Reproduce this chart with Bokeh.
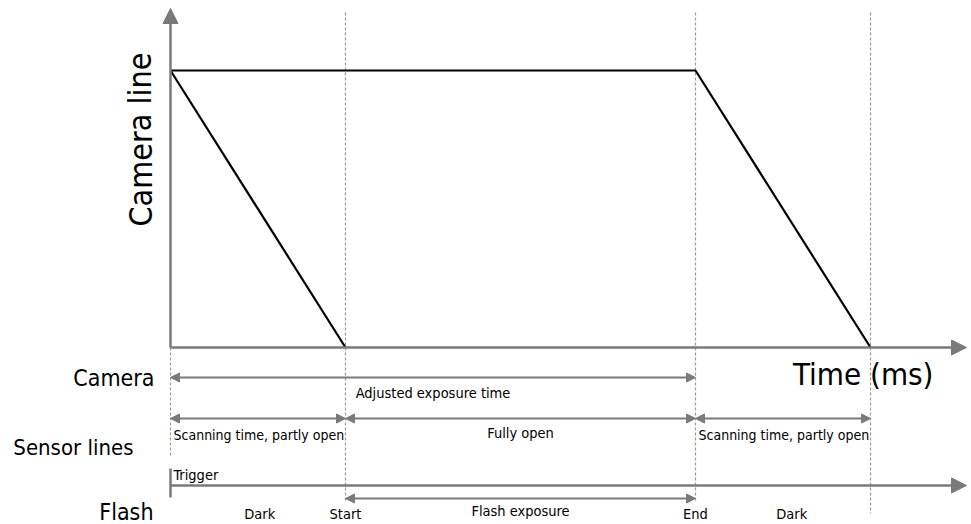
from bokeh.plotting import figure
from bokeh.models import Arrow, NormalHead, Range1d, Label
from bokeh.embed import file_html
from bokeh.resources import INLINE

# ---- data (time in arbitrary ms units, camera line as fraction) ----
event_times = [0, 1, 3, 4]          # trigger / flash start / flash end / scan end
cam_top_x = [0, 3, 4]
cam_top_y = [1, 1, 0]
cam_scan_x = [0, 1]
cam_scan_y = [1, 0]
camera_spans = [(0, 3, "Adjusted exposure time")]
sensor_spans = [(0, 1, "Scanning time, partly open"),
                (1, 3, "Fully open"),
                (3, 4, "Scanning time, partly open")]
flash_span = (1, 3, "Flash exposure")
flash_marks = [(0.51, "Dark"), (1, "Start"), (3, "End"), (3.55, "Dark")]
row_labels = ["Camera", "Sensor lines", "Flash"]

# ---- layout helpers (reference pixel -> data) ----
PX, PY, X0, Y0 = 175.0, 277.0, 170.0, 347.0
def tx(px): return (px - X0) / PX
def vy(py): return (Y0 - py) / PY

FONT = "DejaVu Sans Condensed"
G = "#7a7a7a"
DG = "#9a9a9a"

W, H = 971, 524
p = figure(width=W, height=H, output_backend="svg", toolbar_location=None,
           x_range=Range1d(tx(0), tx(W)), y_range=Range1d(vy(H), vy(0)),
           min_border=0, outline_line_color=None)
p.axis.visible = False
p.grid.visible = False
p.background_fill_color = "white"

# dashed event lines
dash_top = [None, vy(12), vy(12), vy(12)]
dash_bot = [vy(457), vy(500), vy(500), vy(513)]
for t, top, bot in zip(event_times, dash_top, dash_bot):
    y_top = 0 if top is None else top
    p.segment(x0=[t], y0=[y_top], x1=[t], y1=[bot], line_color=DG,
              line_width=1.2, line_dash="3 2")

def head(size):
    return NormalHead(size=size, fill_color=G, line_color=G, line_width=1)

# axes with arrows
p.add_layout(Arrow(end=head(15), x_start=0, y_start=0, x_end=0, y_end=vy(8),
                   line_color=G, line_width=2.5))
p.add_layout(Arrow(end=head(15), x_start=0, y_start=0, x_end=tx(966), y_end=0,
                   line_color=G, line_width=2.5))
# flash line
p.add_layout(Arrow(end=head(15), x_start=0, y_start=vy(485), x_end=tx(966), y_end=vy(485),
                   line_color=G, line_width=2.5))
# trigger tick
p.segment(x0=[event_times[0]], y0=[vy(468)], x1=[event_times[0]], y1=[vy(497)],
          line_color=G, line_width=2.5)

# camera line
p.line(cam_top_x, cam_top_y, line_color="black", line_width=2.2)
p.line(cam_scan_x, cam_scan_y, line_color="black", line_width=2.2)

def span_arrow(a, b, py):
    p.add_layout(Arrow(start=head(9), end=head(9), x_start=a, y_start=vy(py),
                       x_end=b, y_end=vy(py), line_color=G, line_width=2))

SMALL = "14.5px"
def txt(x, y, s, size=SMALL, align="left", angle=0.0):
    p.add_layout(Label(x=x, y=y, text=s, text_font=FONT, text_font_size=size,
                       text_align=align, text_baseline="middle", angle=angle,
                       text_color="black"))

# camera row
for a, b, s in camera_spans:
    span_arrow(a, b, 377)
    txt((a + b) / 2, vy(392), s, align="center")
# sensor row
for a, b, s in sensor_spans:
    span_arrow(a, b, 418)
    if s == "Fully open":
        txt((a + b) / 2, vy(432), s, align="center")
    else:
        txt(a + tx(173), vy(434), s, size="14px")
# flash row
span_arrow(flash_span[0], flash_span[1], 498)
txt((flash_span[0] + flash_span[1]) / 2, vy(510), flash_span[2], align="center")
for t, s in flash_marks:
    txt(t, vy(513), s, align="center")
txt(event_times[0] + tx(173), vy(474), "Trigger")

# row labels
txt(tx(154), vy(377), row_labels[0], size="23px", align="right")
txt(tx(133), vy(447), row_labels[1], size="22px", align="right")
txt(tx(153), vy(511), row_labels[2], size="23px", align="right")

# axis titles
txt(tx(140), vy(139), "Camera line", size="32px", align="center", angle=1.5708)
txt(tx(933), vy(373), "Time (ms)", size="31px", align="right")

open("out.html", "w").write(file_html(p, INLINE))
